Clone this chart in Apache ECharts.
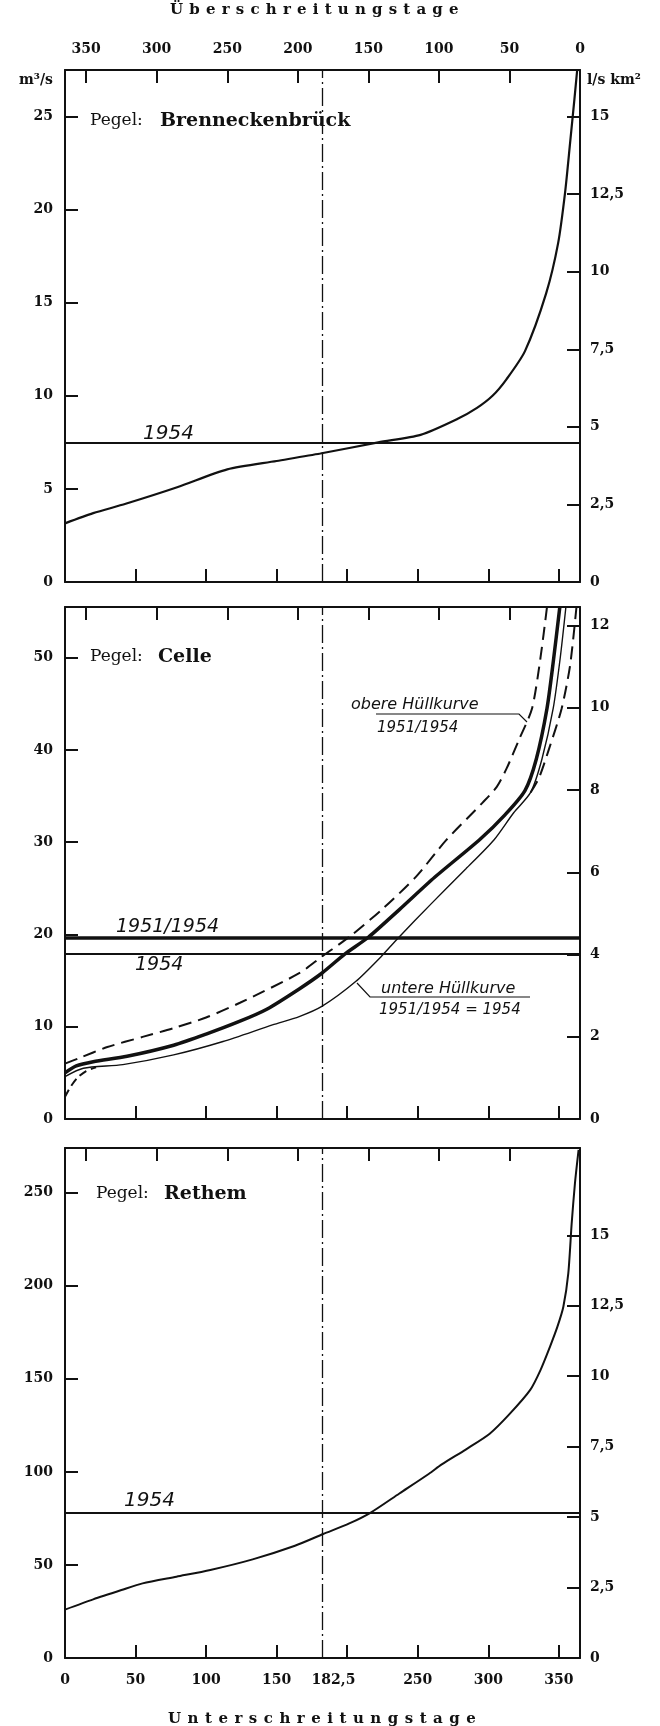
<!DOCTYPE html>
<html>
<head>
<meta charset="utf-8">
<script src="https://cdn.jsdelivr.net/npm/echarts@6/dist/echarts.min.js"></script>
<style>
html,body{margin:0;padding:0;background:#fff;}
#wrap{position:relative;width:660px;height:1726px;}
#chart{position:absolute;left:0;top:0;width:660px;height:1726px;}
.cap{position:absolute;font-family:"DejaVu Serif",serif;font-weight:bold;font-size:15px;color:#111;white-space:nowrap;line-height:18px;}
</style>
</head>
<body>
<div id="wrap">
<div id="chart"></div>
<div class="cap" style="left:170px;top:0px;letter-spacing:6.2px;">Überschreitungstage</div>
<div class="cap" style="left:168px;top:1709px;letter-spacing:6.5px;">Unterschreitungstage</div>
</div>
<script>
// ---------- data ----------
const medianDay = 182.5;
const dayTickStep = 50;
const hiddenDayLabels = [200, 365];

// Pegel Brenneckenbrück
const brDays = [0, 20, 43, 80, 115, 150, 181, 222, 252, 278, 292, 303, 313, 326, 341, 349.5, 354.4, 358, 361, 363];
const brQ    = [3.15, 3.7, 4.2, 5.1, 6.05, 6.5, 6.9, 7.5, 7.9, 8.75, 9.35, 10.0, 10.9, 12.4, 15.5, 18.2, 20.9, 23.6, 25.9, 27.5];
const br1954 = 7.5;

// Pegel Celle
const ceUpperDays = [0, 10, 30, 55, 77, 100, 124, 166, 182, 202, 226, 249, 270, 296, 306, 313, 322, 331, 337, 341.6];
const ceUpperQ    = [6.0, 6.6, 7.8, 8.9, 9.85, 11.0, 12.6, 15.8, 17.6, 19.8, 22.9, 26.3, 30.2, 34.3, 36.0, 38.0, 41.2, 44.5, 50.0, 55.5];
const ceMeanDays  = [0, 8, 20, 44, 77, 100, 124, 143, 166, 182, 198.5, 215, 237, 262, 294, 312, 326, 334, 341.6, 346, 350.7];
const ceMeanQ     = [5.0, 5.75, 6.2, 6.8, 8.0, 9.2, 10.6, 11.9, 14.1, 15.8, 17.9, 19.7, 22.7, 26.2, 30.3, 33.0, 35.6, 39.0, 44.5, 49.5, 55.5];
const ce1954Days  = [0, 13, 41, 77, 112, 147, 166, 182, 206, 224, 236, 260, 284, 304, 318, 330, 338, 346, 351, 355];
const ce1954Q     = [4.6, 5.5, 5.9, 6.95, 8.4, 10.2, 11.1, 12.2, 14.9, 17.6, 19.6, 23.4, 27.1, 30.25, 33.2, 35.4, 39.0, 44.5, 50.0, 55.5];
const ceLowLeftDays  = [0, 4, 9, 15, 22];
const ceLowLeftQ     = [2.4, 3.5, 4.5, 5.2, 5.6];
const ceLowRightDays = [330, 336, 343, 352, 358, 362.5];
const ceLowRightQ    = [35.4, 37.0, 40.1, 44.5, 49.2, 55.5];
const ceMean19511954 = 19.7;
const ceMean1954 = 17.9;

// Pegel Rethem
const reDays = [0, 20, 40, 55, 79, 103, 133, 163, 183, 201.5, 216.4, 237, 258, 267, 284, 301, 315, 329.6, 337, 343.7, 349, 353.2, 356.7, 359.1, 361.4, 364];
const reQ    = [26, 31.5, 36.5, 40.1, 43.7, 47.3, 53.0, 60.3, 66.6, 72.3, 78.0, 88.4, 99, 104, 112, 120.5, 131, 143.9, 154.7, 167.2, 178, 188.7, 206.6, 233.5, 254.9, 273];
const re1954 = 78;

// axis ranges and tick labels: left m³/s, right l/s km²
const leftMax    = [27.5, 55.5, 274];
const leftTicks  = [[0, 5, 10, 15, 20, 25], [0, 10, 20, 30, 40, 50], [0, 50, 100, 150, 200, 250]];
const rightMax   = [16.5, 12.45, 18.1];
const rightTicks = [[0, 2.5, 5, 7.5, 10, 12.5, 15], [0, 2, 4, 6, 8, 10, 12], [0, 2.5, 5, 7.5, 10, 12.5, 15]];

// ---------- chart ----------
const INK = '#111';
const tickFont = {fontFamily: 'DejaVu Serif', fontWeight: 'bold', fontSize: 14, color: INK};
const hand = {fontFamily: 'DejaVu Sans', fontStyle: 'italic', color: INK};

const grids = [
  {left: 65, right: 80, top: 70, height: 512},
  {left: 65, right: 80, top: 607, height: 512},
  {left: 65, right: 80, top: 1148, height: 510}
];

const comma = v => String(v).replace('.', ',');
const frame = {show: true, onZero: false, lineStyle: {color: INK, width: 2}};

const xAxes = [];
const yAxes = [];
for (let g = 0; g < 3; g++) {
  xAxes.push({
    type: 'value', gridIndex: g, position: 'bottom', min: 0, max: 365, interval: dayTickStep,
    axisLine: frame,
    axisTick: {show: true, inside: true, length: 13, lineStyle: {color: INK, width: 2}},
    axisLabel: Object.assign({show: g === 2, margin: 15,
      formatter: v => hiddenDayLabels.includes(v) ? '' : String(v)}, tickFont),
    splitLine: {show: false}
  });
  xAxes.push({
    type: 'value', gridIndex: g, position: 'top', inverse: true, min: 0, max: 365, interval: dayTickStep,
    axisLine: frame,
    axisTick: {show: true, inside: true, length: 13, lineStyle: {color: INK, width: 2}},
    axisLabel: Object.assign({show: g === 0, margin: 14,
      formatter: v => v === 365 ? '' : String(v)}, tickFont),
    splitLine: {show: false}
  });
  yAxes.push({
    type: 'value', gridIndex: g, position: 'left', min: 0, max: leftMax[g],
    axisLine: frame,
    axisTick: {show: true, inside: true, length: 13, customValues: leftTicks[g], lineStyle: {color: INK, width: 2}},
    axisLabel: Object.assign({margin: 12, customValues: leftTicks[g], formatter: v => String(v)}, tickFont),
    splitLine: {show: false}
  });
  yAxes.push({
    type: 'value', gridIndex: g, position: 'right', min: 0, max: rightMax[g],
    axisLine: frame,
    axisTick: {show: true, inside: true, length: 13, customValues: rightTicks[g], lineStyle: {color: INK, width: 2}},
    axisLabel: Object.assign({margin: 10, customValues: rightTicks[g], formatter: v => comma(v)}, tickFont),
    splitLine: {show: false}
  });
}

const pts = (d, v) => d.map((x, i) => [x, v[i]]);
const curve = (name, g, d, v, lineStyle, markLine) => {
  const s = {
    type: 'line', name, xAxisIndex: 2 * g, yAxisIndex: 2 * g, data: pts(d, v),
    symbol: 'none', showSymbol: false, smooth: 0.25,
    lineStyle: Object.assign({color: INK}, lineStyle), silent: true, animation: false, z: 3
  };
  if (markLine) s.markLine = markLine;
  return s;
};
const dashDot = {color: INK, width: 1.3, type: [18, 4, 2, 4]};
const hLine = (val, w) => ({yAxis: val, lineStyle: {color: INK, width: w, type: 'solid'}});
const vLine = (label) => ({xAxis: medianDay, lineStyle: dashDot,
  label: label ? Object.assign({show: true, position: 'start', distance: 15, offset: [11, 0], formatter: '182,5'}, tickFont) : {show: false}});
const ml = (data) => ({symbol: 'none', silent: true, animation: false, label: {show: false}, data});

const series = [
  curve('Brenneckenbrück', 0, brDays, brQ, {width: 2.2}, ml([hLine(br1954, 2), vLine(false)])),
  curve('Celle obere Hüllkurve', 1, ceUpperDays, ceUpperQ, {width: 2, type: [13, 7]}, ml([hLine(ceMean19511954, 3.5), hLine(ceMean1954, 2), vLine(false)])),
  curve('Celle 1951/1954', 1, ceMeanDays, ceMeanQ, {width: 3.5}),
  curve('Celle 1954', 1, ce1954Days, ce1954Q, {width: 1.4}),
  curve('Celle untere Hüllkurve (Anfang)', 1, ceLowLeftDays, ceLowLeftQ, {width: 2, type: [8, 5]}),
  curve('Celle untere Hüllkurve (Ende)', 1, ceLowRightDays, ceLowRightQ, {width: 2, type: [13, 7]}),
  curve('Rethem', 2, reDays, reQ, {width: 2}, ml([hLine(re1954, 2), vLine(true)]))
];

const txt = (x, y, text, font, align) => ({type: 'text', x, y, z: 10, silent: true,
  style: Object.assign({text, fill: INK, align: align || 'left', verticalAlign: 'middle'}, font)});
const poly = (points, w) => ({type: 'polyline', z: 10, silent: true, shape: {points},
  style: {stroke: INK, lineWidth: w || 1.2, fill: null}});

const pegelFont = {fontFamily: 'DejaVu Serif', fontSize: 17, fontWeight: 'normal'};
const nameFont = {fontFamily: 'DejaVu Serif', fontSize: 19, fontWeight: 'bold'};
const unitFont = {fontFamily: 'DejaVu Serif', fontSize: 14, fontWeight: 'bold'};

const graphic = [
  txt(53, 80, 'm³/s', unitFont, 'right'),
  txt(587, 80, 'l/s km²', unitFont),
  txt(90, 121, 'Pegel:', pegelFont), txt(160, 121, 'Brenneckenbrück', nameFont),
  txt(90, 657, 'Pegel:', pegelFont), txt(158, 657, 'Celle', nameFont),
  txt(96, 1194, 'Pegel:', pegelFont), txt(164, 1194, 'Rethem', nameFont),
  txt(143, 434, '1954', Object.assign({fontSize: 20}, hand)),
  txt(116, 927, '1951/1954', Object.assign({fontSize: 19}, hand)),
  txt(135, 965, '1954', Object.assign({fontSize: 19}, hand)),
  txt(351, 705, 'obere Hüllkurve', Object.assign({fontSize: 16}, hand)),
  txt(377, 728, '1951/1954', Object.assign({fontSize: 15}, hand)),
  poly([[376, 714], [519, 714], [527, 722]], 1.2),
  txt(381, 989, 'untere Hüllkurve', Object.assign({fontSize: 16}, hand)),
  txt(379, 1010, '1951/1954 = 1954', Object.assign({fontSize: 15}, hand)),
  poly([[357, 983], [370, 997], [530, 997]], 1.2),
  txt(124, 1501, '1954', Object.assign({fontSize: 20}, hand))
];

const chart = echarts.init(document.getElementById('chart'), null, {renderer: 'canvas', width: 660, height: 1726});
chart.setOption({
  animation: false,
  backgroundColor: '#fff',
  grid: grids,
  xAxis: xAxes,
  yAxis: yAxes,
  series,
  graphic
});
</script>
</body>
</html>
